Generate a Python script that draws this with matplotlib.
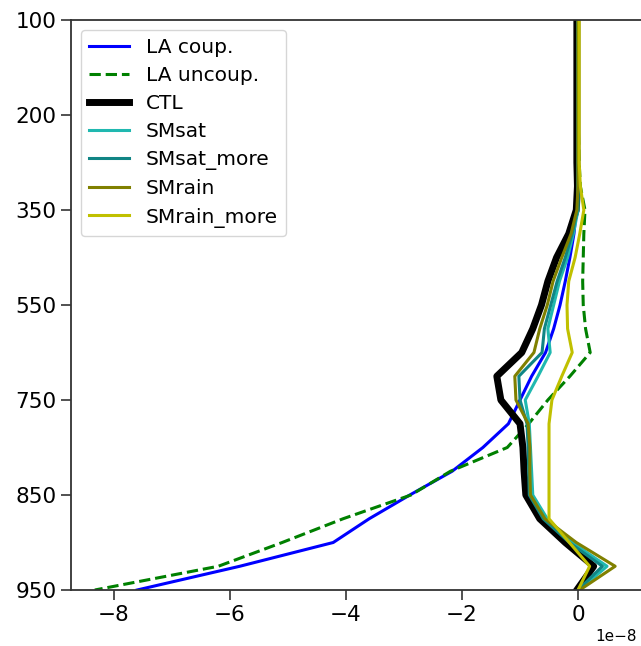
import matplotlib
matplotlib.use("Agg")
import matplotlib.pyplot as plt
import numpy as np

levels = [100, 125, 150, 175, 200, 225, 250, 300, 350, 400, 450, 500, 550,
          600, 650, 700, 750, 775, 800, 825, 850, 875, 900, 925, 950]

la_coup = [0.0, 0.0, 0.0, 0.0, 0.0, 0.0, 0.0, -0.01, -0.03, -0.07, -0.14, -0.22, -0.31,
           -0.42, -0.56, -0.8, -1.0, -1.2, -1.64, -2.17, -2.9, -3.6, -4.22, -5.83, -7.6]
la_uncoup = [0.0, 0.0, 0.0, 0.0, 0.0, 0.01, 0.02, 0.04, 0.12, 0.1, 0.09, 0.08, 0.09,
             0.13, 0.21, -0.14, -0.52, -0.85, -1.22, -2.2, -2.88, -4.05, -5.1, -6.2, -8.33]
ctl = [-0.02, -0.02, -0.02, -0.02, -0.02, -0.02, -0.02, -0.01, -0.03, -0.16, -0.37, -0.52, -0.63,
       -0.78, -0.97, -1.4, -1.33, -1.0, -0.95, -0.93, -0.9, -0.66, -0.22, 0.27, -0.02]
smsat = [0.0, 0.0, 0.0, 0.0, 0.0, 0.0, 0.0, 0.0, 0.0, -0.08, -0.18, -0.32, -0.42,
         -0.52, -0.48, -0.69, -0.91, -0.84, -0.82, -0.8, -0.78, -0.53, -0.1, 0.5, 0.02]
smsat_more = [0.0, 0.0, 0.0, 0.0, 0.0, 0.0, 0.0, 0.0, -0.01, -0.1, -0.22, -0.36, -0.47,
              -0.58, -0.62, -1.02, -1.0, -0.88, -0.86, -0.85, -0.84, -0.6, -0.15, 0.42, 0.0]
smrain = [0.0, 0.0, 0.0, 0.0, 0.0, 0.0, 0.0, 0.0, -0.02, -0.12, -0.28, -0.43, -0.53,
          -0.66, -0.76, -1.09, -1.07, -0.86, -0.83, -0.83, -0.82, -0.57, -0.03, 0.64, 0.03]
smrain_more = [0.02, 0.02, 0.02, 0.02, 0.02, 0.02, 0.02, 0.04, 0.1, 0.03, -0.05, -0.16, -0.19,
               -0.18, -0.1, -0.28, -0.45, -0.5, -0.5, -0.5, -0.5, -0.5, -0.15, 0.2, 0.0]

series = [
    ("LA coup.", la_coup, dict(color="#0000ff", lw=2.2, ls="-")),
    ("LA uncoup.", la_uncoup, dict(color="#008000", lw=2.2, ls="--")),
    ("CTL", ctl, dict(color="black", lw=5.0, ls="-")),
    ("SMsat", smsat, dict(color="#20b8b0", lw=2.2, ls="-")),
    ("SMsat_more", smsat_more, dict(color="#108585", lw=2.2, ls="-")),
    ("SMrain", smrain, dict(color="#808000", lw=2.2, ls="-")),
    ("SMrain_more", smrain_more, dict(color="#c0c000", lw=2.2, ls="-")),
]

W, H = 641, 646
fig = plt.figure(figsize=(W / 100, H / 100), dpi=100)
ax = fig.add_axes([71 / W, (H - 590) / H, (643 - 71) / W, 570 / H])

y = np.arange(len(levels))
for name, vals, st in series:
    ax.plot(np.array(vals) * 1e-8, y, label=name, **st)

ax.set_ylim(len(levels) - 1, 0)
ax.set_xlim(-8.74e-8, 1.12e-8)
ax.set_yticks(y[::4])
ax.set_yticklabels([str(v) for v in levels[::4]])
ax.set_xticks(np.array([-8, -6, -4, -2, 0]) * 1e-8)

ax.tick_params(labelsize=15.5, length=7, width=1.2, color="#333333")
off = ax.xaxis.get_offset_text()
off.set_fontsize(11)
off.set_x((637 - 71) / (643 - 71))
for s in ax.spines.values():
    s.set_linewidth(1.3)
    s.set_color("#333333")
ax.spines["right"].set_visible(False)

leg = ax.legend(loc="upper left", fontsize=14.5, framealpha=0.8,
                handlelength=2.0, labelspacing=0.45)

fig.savefig("out.png", dpi=100)
